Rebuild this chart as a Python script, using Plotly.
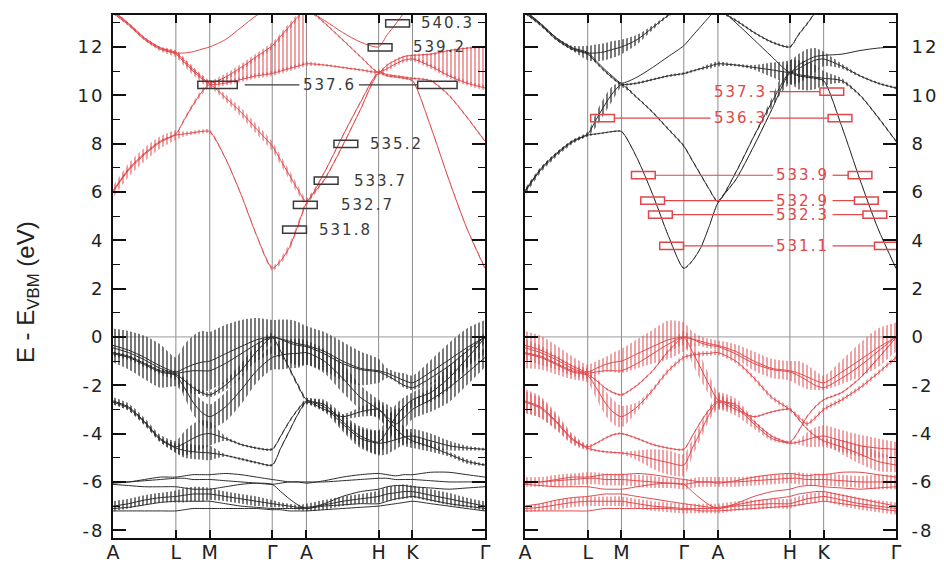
import plotly.graph_objects as go

# ---------------- k-path ----------------
K = [0.0, 0.042, 0.085, 0.127, 0.169, 0.192, 0.215, 0.237, 0.260, 0.302, 0.344, 0.386,
     0.428, 0.451, 0.474, 0.497, 0.520, 0.568, 0.617, 0.665, 0.714, 0.737, 0.760, 0.782,
     0.805, 0.854, 0.903, 0.951, 1.0]
KTICKS = [0.0, 0.169, 0.260, 0.428, 0.520, 0.714, 0.805, 1.0]
KLABELS = ["A", "L", "M", "Γ", "A", "H", "K", "Γ"]
YTICKS = [-8, -6, -4, -2, 0, 2, 4, 6, 8, 10, 12]

# ---------------- conduction bands (eV) ----------------
CB1 = [6.0, 6.9, 7.55, 8.05, 8.35, 8.4, 8.45, 8.5, 8.5, 7.4, 5.9, 4.2, 2.84, 3.15, 3.7, 4.6,
       5.55, 6.5, 7.9, 9.4, 10.9, 10.8, 10.75, 10.7, 10.6, 8.7, 6.5, 4.5, 2.84]
CB2 = [6.05, 6.95, 7.6, 8.1, 8.4, 9.0, 9.6, 10.1, 10.43, 9.9, 9.3, 8.6, 7.9, 7.3, 6.7, 6.1,
       5.6, 6.8, 8.3, 9.7, 10.95, 10.85, 10.8, 10.75, 10.7, 10.6, 10.0, 9.1, 8.1]
CB3 = [13.4, 12.9, 12.3, 11.9, 11.7, 11.35, 11.0, 10.7, 10.45, 10.5, 10.65, 10.8, 10.9, 11.0,
       11.1, 11.2, 11.3, 11.25, 11.15, 11.05, 10.95, 11.1, 11.3, 11.45, 11.5, 11.2, 10.8, 10.5, 10.3]
CB4 = [13.45, 12.95, 12.35, 11.95, 11.75, 11.75, 11.8, 11.9, 12.0, 12.3, 12.8, 13.3, 13.6,
       13.7, 13.7, 13.6, 13.5, 13.1, 12.6, 12.2, 12.0, 12.5, 12.95, 13.4, 13.7, 13.8, 13.6,
       13.5, 13.6]
CB5 = [13.5, 12.97, 12.37, 11.97, 11.77, 11.42, 11.07, 10.77, 10.5, 10.75, 11.15, 11.6, 12.05,
       12.45, 12.85, 13.25, 13.6, 13.0, 12.3, 11.6, 10.95, 11.25, 11.45, 11.6, 11.65, 11.7,
       11.85, 11.95, 12.0]

# ---------------- valence bands (eV) ----------------
VB1 = [-0.35, -0.55, -0.85, -1.2, -1.45, -1.3, -1.15, -1.05, -1.0, -0.7, -0.4, -0.12, 0.0,
       -0.08, -0.18, -0.28, -0.35, -0.6, -1.0, -1.3, -1.4, -1.5, -1.65, -1.8, -1.9, -1.45,
       -0.95, -0.45, 0.0]
VB2 = [-0.45, -0.65, -0.95, -1.3, -1.5, -1.45, -1.4, -1.4, -1.4, -1.1, -0.7, -0.3, 0.0,
       -0.1, -0.25, -0.35, -0.4, -0.7, -1.1, -1.35, -1.45, -1.6, -1.8, -2.0, -2.1, -1.7,
       -1.2, -0.6, 0.0]
VB3 = [-0.65, -0.8, -1.1, -1.4, -1.55, -1.8, -2.1, -2.3, -2.4, -2.0, -1.4, -0.6, -0.03,
       -0.6, -1.3, -2.0, -2.6, -2.8, -3.5, -4.1, -4.35, -3.9, -3.3, -2.9, -2.6, -2.3, -1.7,
       -0.9, -0.03]
VB4 = [-0.7, -0.85, -1.15, -1.45, -1.6, -2.1, -2.7, -3.1, -3.3, -2.9, -2.2, -1.4, -0.85,
       -0.75, -0.7, -0.68, -0.65, -1.0, -1.7, -2.5, -3.0, -3.3, -3.6, -3.35, -3.0, -2.6,
       -2.1, -1.5, -0.85]
VB5 = [-2.65, -2.9, -3.5, -4.2, -4.55, -4.4, -4.2, -4.05, -4.0, -4.2, -4.45, -4.6, -4.65,
       -4.1, -3.5, -3.0, -2.65, -2.9, -3.6, -4.2, -4.4, -4.35, -4.25, -4.15, -4.1, -4.3,
       -4.5, -4.6, -4.65]
VB6 = [-2.7, -2.95, -3.55, -4.25, -4.6, -4.7, -4.75, -4.78, -4.8, -4.9, -5.05, -5.2, -5.3,
       -4.6, -3.9, -3.2, -2.7, -3.0, -3.3, -3.1, -3.0, -3.4, -3.8, -4.1, -4.3, -4.55, -4.85,
       -5.15, -5.3]
DB1 = [-6.0, -6.0, -5.95, -5.9, -5.85, -5.85, -5.9, -5.9, -5.9, -5.95, -6.0, -6.05, -6.1,
       -6.05, -6.0, -6.0, -6.0, -6.0, -5.95, -5.9, -5.85, -5.85, -5.9, -5.9, -5.9, -5.95,
       -6.0, -6.0, -6.0]
DB2 = [-6.05, -6.0, -5.9, -5.8, -5.8, -5.75, -5.7, -5.7, -5.7, -5.65, -5.7, -5.8, -5.9,
       -5.95, -6.0, -6.0, -6.05, -5.95, -5.8, -5.7, -5.65, -5.7, -5.75, -5.7, -5.7, -5.6,
       -5.6, -5.7, -5.8]
DB3 = [-7.0, -6.9, -6.75, -6.65, -6.6, -6.55, -6.5, -6.5, -6.5, -6.6, -6.7, -6.8, -6.9,
       -6.95, -7.0, -7.05, -7.05, -6.95, -6.8, -6.7, -6.6, -6.5, -6.45, -6.4, -6.4, -6.55,
       -6.7, -6.85, -7.0]
DB4 = [-7.1, -7.05, -6.95, -6.85, -6.8, -6.8, -6.8, -6.8, -6.8, -6.9, -7.0, -7.05, -7.1,
       -7.1, -7.1, -7.1, -7.1, -7.0, -6.95, -6.9, -6.9, -6.8, -6.7, -6.65, -6.6, -6.75,
       -6.9, -7.0, -7.1]
DB5 = [-7.2, -7.2, -7.2, -7.2, -7.2, -7.15, -7.1, -7.1, -7.1, -7.1, -7.1, -7.1, -7.15,
       -7.15, -7.2, -7.2, -7.2, -7.15, -7.1, -7.05, -7.0, -6.95, -6.9, -6.85, -6.8, -6.9,
       -7.0, -7.1, -7.2]
DB6 = [-6.1, -6.15, -6.2, -6.2, -6.2, -6.25, -6.3, -6.3, -6.3, -6.2, -6.1, -6.05, -6.1,
       -6.4, -6.7, -6.95, -7.1, -6.9, -6.6, -6.4, -6.3, -6.2, -6.15, -6.15, -6.2, -6.25,
       -6.3, -6.25, -6.2]

# ---------------- projected weights (half-width of hatch, eV) ----------------
# left panel
WL_CB1 = [0.25, 0.28, 0.28, 0.25, 0.2, 0.1, 0.08, 0.08, 0.08, 0.05, 0.05, 0.06, 0.1, 0.14,
          0.15, 0.15, 0.12, 0.08, 0.06, 0.05, 0.05, 0.05, 0.05, 0.05, 0.05, 0.05, 0.05, 0.05, 0.08]
WL_CB2 = [0.05, 0.05, 0.05, 0.05, 0.05, 0.08, 0.1, 0.12, 0.12, 0.15, 0.18, 0.2, 0.2, 0.2,
          0.2, 0.18, 0.14, 0.05, 0.05, 0.05, 0.05, 0.05, 0.05, 0.05, 0.05, 0.05, 0.05, 0.05, 0.05]
WL_CB3 = [0.05, 0.05, 0.05, 0.08, 0.14, 0.16, 0.16, 0.16, 0.14, 0.1, 0.1, 0.1, 0.1, 0.1, 0.1,
          0.1, 0.1, 0.05, 0.05, 0.05, 0.1, 0.1, 0.1, 0.1, 0.1, 0.1, 0.1, 0.1, 0.1]
WL_CB5 = [0.05, 0.05, 0.05, 0.05, 0.1, 0.12, 0.12, 0.12, 0.12, 0.14, 0.14, 0.14, 0.14, 0.14,
          0.14, 0.14, 0.14, 0.05, 0.05, 0.05, 0.05, 0.05, 0.05, 0.05, 0.05, 0.05, 0.05, 0.05, 0.05]
WL_VB1 = [0.7, 0.8, 0.9, 0.9, 0.6, 1.0, 1.2, 1.3, 1.2, 1.2, 1.1, 0.9, 0.7, 0.8, 0.9, 0.9,
          0.8, 0.8, 0.8, 0.7, 0.5, 0.2, 0.2, 0.3, 0.3, 0.5, 0.7, 0.8, 0.7]
WL_VB4 = [0.1, 0.1, 0.1, 0.1, 0.2, 0.4, 0.5, 0.5, 0.5, 0.6, 0.6, 0.5, 0.5, 0.6, 0.6, 0.6,
          0.5, 0.5, 0.6, 0.5, 0.4, 0.5, 0.6, 0.5, 0.4, 0.5, 0.6, 0.5, 0.4]
WL_VB3 = [0.05, 0.05, 0.05, 0.05, 0.05, 0.1, 0.1, 0.1, 0.1, 0.2, 0.3, 0.3, 0.2, 0.1, 0.1,
          0.1, 0.1, 0.2, 0.3, 0.4, 0.5, 0.5, 0.5, 0.4, 0.3, 0.4, 0.5, 0.4, 0.2]
WL_VB5 = [0.15, 0.15, 0.15, 0.15, 0.25, 0.5, 0.6, 0.6, 0.5, 0.1, 0.05, 0.05, 0.05, 0.05,
          0.05, 0.05, 0.1, 0.2, 0.3, 0.4, 0.5, 0.5, 0.4, 0.3, 0.3, 0.3, 0.2, 0.1, 0.05]
WL_VB6 = [0.1, 0.1, 0.1, 0.1, 0.2, 0.3, 0.3, 0.3, 0.3, 0.05, 0.05, 0.05, 0.05, 0.05, 0.05,
          0.05, 0.1, 0.1, 0.1, 0.2, 0.3, 0.4, 0.5, 0.4, 0.3, 0.2, 0.1, 0.1, 0.05]
WL_DB3 = [0.2, 0.2, 0.2, 0.2, 0.25, 0.3, 0.3, 0.3, 0.25, 0.2, 0.2, 0.2, 0.15, 0.1, 0.1, 0.1,
          0.15, 0.2, 0.2, 0.2, 0.25, 0.3, 0.3, 0.3, 0.25, 0.25, 0.25, 0.2, 0.2]
# right panel
WR_CB1 = [0.15, 0.12, 0.1, 0.08, 0.05, 0.03, 0.03, 0.03, 0.03, 0.03, 0.03, 0.03, 0.03, 0.03,
          0.03, 0.03, 0.03, 0.03, 0.03, 0.03, 0.05, 0.05, 0.05, 0.05, 0.05, 0.03, 0.03, 0.03, 0.03]
WR_CB2 = [0.05, 0.05, 0.05, 0.05, 0.1, 0.3, 0.35, 0.3, 0.1, 0.05, 0.05, 0.05, 0.05, 0.05, 0.05,
          0.05, 0.05, 0.05, 0.05, 0.2, 0.5, 0.6, 0.6, 0.5, 0.3, 0.1, 0.05, 0.05, 0.05]
WR_CB4 = [0.05, 0.05, 0.05, 0.1, 0.3, 0.35, 0.35, 0.35, 0.3, 0.2, 0.1, 0.05, 0.05, 0.05, 0.05,
          0.05, 0.05, 0.05, 0.05, 0.05, 0.05, 0.05, 0.05, 0.05, 0.05, 0.05, 0.05, 0.05, 0.05]
WR_CB3 = [0.05, 0.05, 0.05, 0.05, 0.05, 0.05, 0.05, 0.05, 0.05, 0.05, 0.05, 0.05, 0.05, 0.05,
          0.05, 0.1, 0.1, 0.05, 0.1, 0.3, 0.5, 0.6, 0.6, 0.5, 0.3, 0.1, 0.05, 0.05, 0.05]
WR_VB1 = [0.6, 0.6, 0.5, 0.4, 0.3, 0.3, 0.3, 0.4, 0.5, 0.6, 0.7, 0.8, 0.6, 0.3, 0.2, 0.2,
          0.2, 0.3, 0.4, 0.4, 0.4, 0.5, 0.5, 0.4, 0.3, 0.5, 0.7, 0.8, 0.6]
WR_VB4 = [0.6, 0.5, 0.4, 0.3, 0.3, 0.45, 0.5, 0.5, 0.45, 0.2, 0.1, 0.1, 0.1, 0.1, 0.1, 0.1,
          0.1, 0.1, 0.1, 0.1, 0.1, 0.1, 0.1, 0.1, 0.1, 0.1, 0.1, 0.1, 0.1]
WR_VB3 = [0.05, 0.05, 0.05, 0.05, 0.05, 0.05, 0.05, 0.05, 0.05, 0.05, 0.05, 0.1, 0.3, 0.5,
          0.5, 0.4, 0.3, 0.1, 0.05, 0.05, 0.05, 0.05, 0.05, 0.05, 0.05, 0.05, 0.05, 0.05, 0.05]
WR_VB5 = [0.5, 0.45, 0.35, 0.2, 0.1, 0.05, 0.05, 0.05, 0.05, 0.05, 0.05, 0.05, 0.05, 0.05,
          0.05, 0.1, 0.35, 0.35, 0.2, 0.1, 0.05, 0.1, 0.3, 0.4, 0.45, 0.45, 0.45, 0.4, 0.3]
WR_VB6 = [0.45, 0.4, 0.3, 0.2, 0.1, 0.05, 0.05, 0.05, 0.05, 0.2, 0.4, 0.5, 0.45, 0.35, 0.3,
          0.25, 0.3, 0.1, 0.05, 0.05, 0.05, 0.05, 0.05, 0.05, 0.1, 0.3, 0.4, 0.4, 0.3]
WR_DB1 = [0.2, 0.2, 0.25, 0.25, 0.25, 0.25, 0.25, 0.25, 0.25, 0.25, 0.25, 0.2, 0.2, 0.2, 0.2,
          0.2, 0.2, 0.2, 0.2, 0.2, 0.2, 0.25, 0.25, 0.25, 0.25, 0.25, 0.25, 0.3, 0.3]
WR_DB4 = [0.15, 0.15, 0.2, 0.2, 0.2, 0.2, 0.2, 0.2, 0.2, 0.2, 0.2, 0.2, 0.2, 0.2, 0.2,
          0.2, 0.2, 0.2, 0.2, 0.2, 0.2, 0.2, 0.2, 0.2, 0.2, 0.25, 0.25, 0.25, 0.25]

# explicit hatched regions of the left panel's conduction band (k, lower eV, upper eV)
HL1_K = [0.260, 0.302, 0.344, 0.386, 0.428, 0.451, 0.474, 0.497, 0.520]
HL1_LO = [10.45, 10.5, 10.65, 10.8, 10.9, 11.0, 11.1, 11.2, 11.3]
HL1_HI = [10.5, 10.75, 11.15, 11.6, 12.05, 12.45, 12.85, 13.25, 13.6]
HL2_K = [0.805, 0.854, 0.903, 0.951, 1.0]
HL2_LO = [11.5, 11.2, 10.8, 10.5, 10.3]
HL2_HI = [11.65, 11.7, 11.85, 11.95, 12.0]

# ---------------- transition markers ----------------
L_TR_E = [12.97, 11.98, 10.43, 7.99, 6.47, 5.46, 4.44]
L_TR_LABEL = ["540.3", "539.2", "537.6", "535.2", "533.7", "532.7", "531.8"]
L_TR_BOX1 = [0.765, 0.718, 0.281, 0.626, 0.573, 0.517, 0.488]
L_TR_BOX2 = [None, None, 0.872, None, None, None, None]
L_TR_TEXT = [0.900, 0.879, 0.581, 0.761, 0.720, 0.683, 0.626]

R_TR_E = [10.15, 9.05, 6.69, 5.64, 5.06, 3.77]
R_TR_LABEL = ["537.3", "536.3", "533.9", "532.9", "532.3", "531.1"]
R_TR_BOX1 = [None, 0.209, 0.319, 0.344, 0.365, 0.395]
R_TR_BOX2 = [0.827, 0.849, 0.903, 0.920, 0.943, 0.974]
R_TR_TEXT = [0.580, 0.580, 0.749, 0.749, 0.749, 0.749]

# ---------------- styles ----------------
RED = "#e0474a"
RED_H = "rgba(225,70,75,0.85)"
BLK = "#2b2b2b"
BLK_H = "rgba(45,45,45,0.8)"
FONT = "DejaVu Sans"
SOLIDITY = {RED_H: 0.3, BLK_H: 0.4}

BANDS = [CB1, CB2, CB3, CB4, CB5, VB1, VB2, VB3, VB4, VB5, VB6, DB1, DB2, DB3, DB4, DB5, DB6]
IS_COND = [True] * 5 + [False] * 12
LEFT_W = {0: WL_CB1, 1: WL_CB2, 2: WL_CB3, 4: WL_CB5, 5: WL_VB1, 7: WL_VB3, 8: WL_VB4,
          9: WL_VB5, 10: WL_VB6, 13: WL_DB3}
RIGHT_W = {0: WR_CB1, 1: WR_CB2, 2: WR_CB3, 3: WR_CB4, 5: WR_VB1, 7: WR_VB3, 8: WR_VB4,
           9: WR_VB5, 10: WR_VB6, 11: WR_DB1, 14: WR_DB4}

fig = go.Figure()
SPL = dict(shape="spline", smoothing=0.7)


def add_hatch(xa, ya, ks, lo, hi, color):
    fig.add_trace(go.Scatter(x=ks, y=lo, mode="lines", line=dict(width=0, **SPL),
                             xaxis=xa, yaxis=ya, hoverinfo="skip", showlegend=False))
    fig.add_trace(go.Scatter(x=ks, y=hi, mode="lines", line=dict(width=0, **SPL),
                             fill="tonexty", fillcolor="rgba(0,0,0,0)",
                             fillpattern=dict(shape="|", fgcolor=color, size=4,
                                              solidity=SOLIDITY[color], fillmode="replace",
                                              bgcolor="rgba(0,0,0,0)"),
                             xaxis=xa, yaxis=ya, hoverinfo="skip", showlegend=False))


def add_panel(xa, ya, weights, cond_hatch, val_hatch):
    for i, E in enumerate(BANDS):
        if i not in weights:
            continue
        W = weights[i]
        hatch = cond_hatch if IS_COND[i] else val_hatch
        add_hatch(xa, ya, K, [e - w for e, w in zip(E, W)], [e + w for e, w in zip(E, W)], hatch)


def add_lines(xa, ya, cond_color, val_color):
    for i, E in enumerate(BANDS):
        col = cond_color if IS_COND[i] else val_color
        fig.add_trace(go.Scatter(x=K, y=E, mode="lines", line=dict(color=col, width=1, **SPL),
                                 xaxis=xa, yaxis=ya, hoverinfo="skip", showlegend=False))


add_panel("x", "y", LEFT_W, RED_H, BLK_H)
add_hatch("x", "y", HL1_K, HL1_LO, HL1_HI, RED_H)
add_hatch("x", "y", HL2_K, HL2_LO, HL2_HI, RED_H)
add_lines("x", "y", RED, BLK)
add_panel("x2", "y2", RIGHT_W, BLK_H, RED_H)
add_lines("x2", "y2", BLK, RED)

shapes = []
annotations = []
BOX_HW = 0.032
WIDE_HW = 0.053
BOX_HH = 0.15
TEXT_HW = 0.08


def add_transitions(xr, yr, Es, labels, b1s, b2s, txs, color, gap):
    for E, lab, b1, b2, tx in zip(Es, labels, b1s, b2s, txs):
        hw = WIDE_HW if (b1 is not None and b2 is not None and gap > 0) else BOX_HW
        for b in (b1, b2):
            if b is None:
                continue
            shapes.append(dict(type="rect", xref=xr, yref=yr, x0=b - hw, x1=b + hw,
                               y0=E - BOX_HH, y1=E + BOX_HH,
                               line=dict(color=color, width=1.5)))
        if b1 is not None and b2 is not None:
            shapes.append(dict(type="line", xref=xr, yref=yr, x0=b1 + hw + gap,
                               x1=tx - TEXT_HW, y0=E, y1=E, line=dict(color=color, width=1.2)))
        if b2 is not None:
            shapes.append(dict(type="line", xref=xr, yref=yr, x0=tx + TEXT_HW,
                               x1=b2 - hw, y0=E, y1=E, line=dict(color=color, width=1.2)))
        annotations.append(dict(xref=xr, yref=yr, x=tx, y=E, showarrow=False,
                                text='<span style="letter-spacing:2px">' + lab + '</span>',
                                font=dict(family=FONT, size=15, color=color),
                                xanchor="center", yanchor="middle"))


add_transitions("x", "y", L_TR_E, L_TR_LABEL, L_TR_BOX1, L_TR_BOX2, L_TR_TEXT, "#3a3a3a", 0.02)
add_transitions("x2", "y2", R_TR_E, R_TR_LABEL, R_TR_BOX1, R_TR_BOX2, R_TR_TEXT, RED, 0.0)

for xr, yr in (("x", "y"), ("x2", "y2")):
    for kt in KTICKS[1:-1]:
        shapes.append(dict(type="line", xref=xr, yref=yr, x0=kt, x1=kt, y0=-8.32, y1=13.32,
                           layer="below", line=dict(color="#8c8c8c", width=1)))
    shapes.append(dict(type="line", xref=xr, yref=yr, x0=0, x1=1, y0=0, y1=0,
                       layer="below", line=dict(color="#9a9a9a", width=1)))

annotations.append(dict(xref="paper", yref="paper", x=-0.11, y=0.47, showarrow=False,
                        text="E - E<sub>VBM</sub> (eV)", textangle=-90,
                        font=dict(family="Liberation Sans", size=24, color="#222"),
                        xanchor="center", yanchor="middle"))

ytext = ['<span style="letter-spacing:2px">' + str(v) + '</span>' for v in YTICKS]

xcommon = dict(range=[0, 1], tickvals=KTICKS, ticktext=KLABELS, ticks="inside", ticklen=8,
               tickwidth=1.5, tickcolor="#111", showgrid=False, zeroline=False,
               showline=True, linecolor="#111", linewidth=2, mirror="ticks",
               automargin=False, ticklabelstandoff=-4,
               tickfont=dict(family=FONT, size=19, color="#222"))
ycommon = dict(range=[-8.32, 13.32], tickvals=YTICKS, ticktext=ytext, ticks="inside",
               ticklen=13, tickwidth=1.5, tickcolor="#111", showgrid=False, zeroline=False,
               showline=True, linecolor="#111", linewidth=2, mirror="ticks",
               automargin=False,
               minor=dict(dtick=1, tick0=1, ticks="inside", ticklen=7, tickwidth=1.2,
                          tickcolor="#111", showgrid=False),
               tickfont=dict(family=FONT, size=18, color="#222"))

# the page adds an 8px body margin, so the figure is 8px smaller and shifted accordingly
fig.update_layout(
    width=936, height=555,
    margin=dict(l=105, r=48, t=7, b=25, autoexpand=False),
    paper_bgcolor="white", plot_bgcolor="white",
    showlegend=False,
    xaxis=dict(domain=[0, 0.4751], anchor="y", **xcommon),
    xaxis2=dict(domain=[0.5262, 1.0], anchor="y2", **xcommon),
    yaxis=dict(anchor="x", side="left", ticklabelstandoff=3, **ycommon),
    yaxis2=dict(anchor="x2", side="right", ticklabelstandoff=10, **ycommon),
    shapes=shapes, annotations=annotations,
)

fig.write_html("out.html")
